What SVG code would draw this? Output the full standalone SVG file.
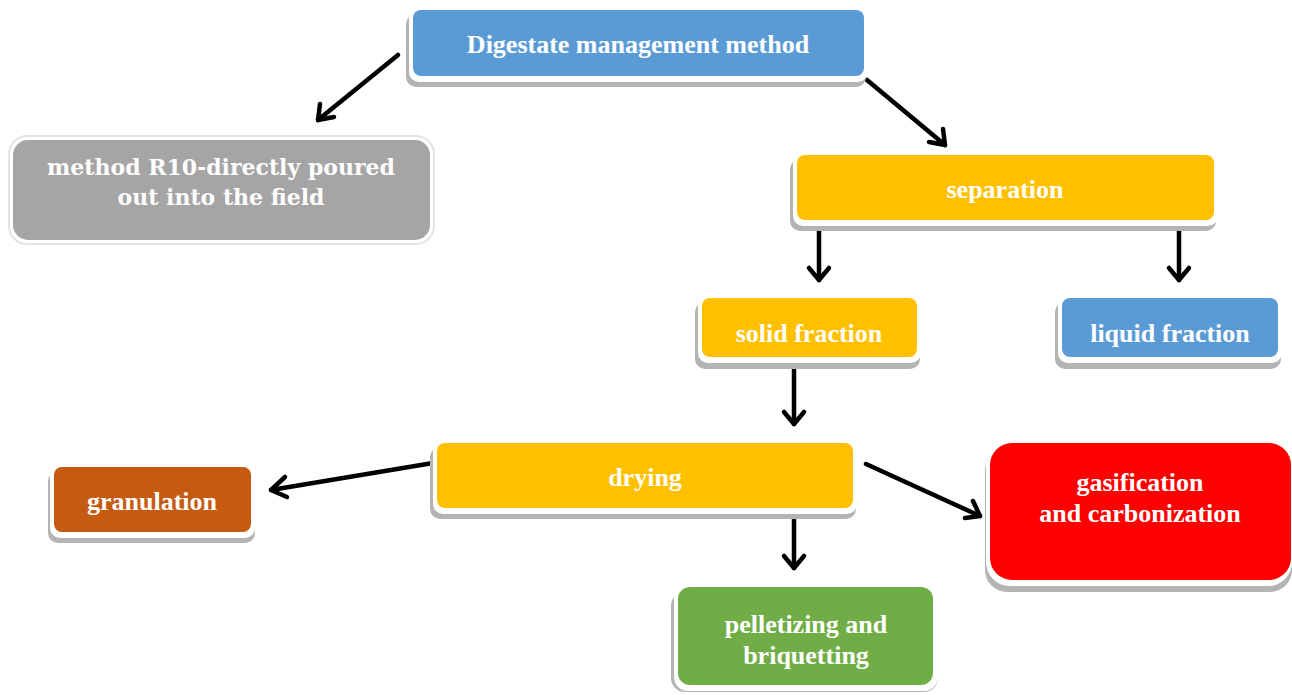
<svg xmlns="http://www.w3.org/2000/svg" width="1292" height="695" viewBox="0 0 1292 695">
<defs>
<style>
.sh{fill:#b4b4b4;}
.wb{fill:#ffffff;}
.t{font-family:"Liberation Serif","Times New Roman",serif;font-weight:bold;font-size:26px;fill:#ffffff;text-anchor:middle;}
.tg{font-family:"DejaVu Serif",serif;font-weight:bold;font-size:22px;fill:#ffffff;text-anchor:middle;}
.c{stroke:#000;stroke-width:4.5;fill:none;stroke-linecap:round;stroke-linejoin:round;}
</style>
</defs>
<g id="connectors">
<line class="c" x1="398" y1="55" x2="318" y2="120"/><polyline class="c" points="320,104 318,120 334,117"/>
<line class="c" x1="867" y1="80" x2="945" y2="145"/><polyline class="c" points="929,142 945,145 943,129"/>
<line class="c" x1="819" y1="224" x2="819" y2="280"/><polyline class="c" points="809,268 819,280 829,268"/>
<line class="c" x1="1179" y1="224" x2="1179" y2="280"/><polyline class="c" points="1169,268 1179,280 1189,268"/>
<line class="c" x1="794" y1="369" x2="794" y2="424"/><polyline class="c" points="784,412 794,424 804,412"/>
<line class="c" x1="433" y1="463" x2="271" y2="490"/><polyline class="c" points="285,477 271,490 287,497"/>
<line class="c" x1="866" y1="464" x2="980" y2="516"/><polyline class="c" points="965,518 980,516 973,501"/>
<line class="c" x1="794" y1="513" x2="794" y2="568"/><polyline class="c" points="784,556 794,568 804,556"/>
</g>
<g id="n-digestate">
<rect class="sh" x="406" y="14" width="460" height="73" rx="10"/>
<rect class="wb" x="409" y="6" width="459" height="76" rx="10"/>
<rect x="413" y="10" width="451" height="66" rx="8" fill="#5B9BD5"/>
<text class="t" x="638" y="53">Digestate management method</text>
</g>
<g id="n-r10">
<rect x="9" y="136" width="425" height="108" rx="18" fill="#ffffff" stroke="#e4e4e4" stroke-width="2"/>
<rect x="13" y="140" width="417" height="100" rx="15" fill="#A5A5A5"/>
<text class="tg" x="221" y="175">method R10-directly poured</text>
<text class="tg" x="221" y="205">out into the field</text>
</g>
<g id="n-separation">
<rect class="sh" x="790" y="159" width="426" height="72" rx="10"/>
<rect class="wb" x="793" y="151" width="425" height="75" rx="10"/>
<rect x="797" y="155" width="417" height="65" rx="8" fill="#FFC000"/>
<text class="t" x="1005" y="198">separation</text>
</g>
<g id="n-solid">
<rect class="sh" x="695" y="302" width="225" height="67" rx="10"/>
<rect class="wb" x="698" y="294" width="223" height="69" rx="10"/>
<rect x="702" y="298" width="215" height="59" rx="8" fill="#FFC000"/>
<text class="t" x="809" y="342">solid fraction</text>
</g>
<g id="n-liquid">
<rect class="sh" x="1055" y="302" width="226" height="67" rx="10"/>
<rect class="wb" x="1058" y="294" width="224" height="69" rx="10"/>
<rect x="1062" y="298" width="216" height="59" rx="8" fill="#5B9BD5"/>
<text class="t" x="1170" y="342">liquid fraction</text>
</g>
<g id="n-drying">
<rect class="sh" x="430" y="447" width="426" height="72" rx="10"/>
<rect class="wb" x="433" y="439" width="424" height="75" rx="10"/>
<rect x="437" y="443" width="416" height="65" rx="8" fill="#FFC000"/>
<text class="t" x="645" y="486">drying</text>
</g>
<g id="n-granulation">
<rect class="sh" x="48" y="471" width="207" height="72" rx="10"/>
<rect class="wb" x="50" y="463" width="205" height="75" rx="10"/>
<rect x="54" y="467" width="197" height="65" rx="8" fill="#C55A11"/>
<text class="t" x="152" y="510">granulation</text>
</g>
<g id="n-gasification">
<rect class="sh" x="985" y="449" width="307" height="143" rx="22"/>
<rect class="wb" x="986" y="439" width="306" height="147" rx="24"/>
<rect x="990" y="443" width="301" height="137" rx="22" fill="#FF0000"/>
<text class="t" x="1140" y="491">gasification</text>
<text class="t" x="1140" y="522">and carbonization</text>
</g>
<g id="n-pelletizing">
<rect class="sh" x="671" y="592" width="267" height="100" rx="14"/>
<rect class="wb" x="674" y="583" width="264" height="108" rx="14"/>
<rect x="678" y="587" width="255" height="98" rx="12" fill="#70AD47"/>
<text class="t" x="806" y="633">pelletizing and</text>
<text class="t" x="806" y="664">briquetting</text>
</g>
</svg>
